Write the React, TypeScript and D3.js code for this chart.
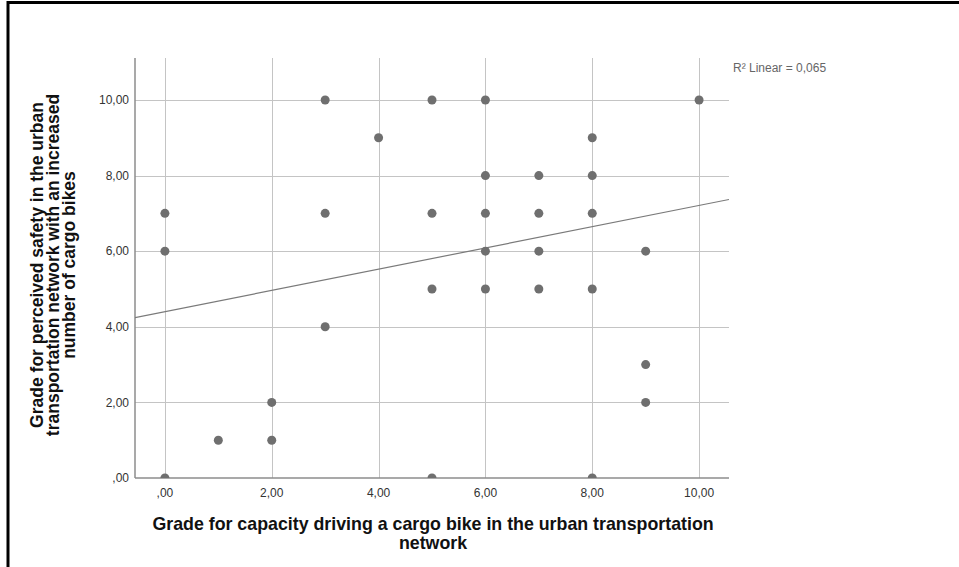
import React, { useEffect, useRef } from 'react';
import * as d3 from 'd3';

// grades (one entry per visible dot)
const capacity = [0, 0, 0, 1, 2, 2, 3, 3, 3, 4, 5, 5, 5, 5, 6, 6, 6, 6, 6, 7, 7, 7, 7, 8, 8, 8, 8, 8, 9, 9, 9, 10];
const safety = [7, 6, 0, 1, 2, 1, 10, 7, 4, 9, 10, 7, 5, 0, 10, 8, 7, 6, 5, 8, 7, 6, 5, 9, 8, 7, 5, 0, 6, 3, 2, 10];

const xTicks = [0, 2, 4, 6, 8, 10];
const yTicks = [0, 2, 4, 6, 8, 10];

// fit line as drawn in the reference
const fitIntercept = 4.4;
const fitSlope = 0.281;
const r2Label = 'R\u00b2 Linear = 0,065';

const yTitle = [
  'Grade for perceived safety in the urban',
  'transportation network with an increased',
  'number of cargo bikes',
];
const xTitle = ['Grade for capacity driving a cargo bike in the urban transportation', 'network'];

const fmt = (v: number) => (v === 0 ? ',00' : d3.format('.2f')(v).replace('.', ','));

const App = () => {
  const svgRef = useRef<SVGSVGElement>(null);

  useEffect(() => {
    const svg = d3.select(svgRef.current);
    svg.selectAll('*').remove();

    const left = 135, right = 729, top = 58, bottom = 478;
    const x = d3.scaleLinear().domain([-0.56, 10.56]).range([left, right]);
    const y = d3.scaleLinear().domain([0, 11.11]).range([bottom, top]);

    // frame (top + left only, like the cropped original)
    svg.append('line').attr('x1', 7).attr('x2', 959).attr('y1', 2.5).attr('y2', 2.5)
      .attr('stroke', '#000').attr('stroke-width', 3);
    svg.append('line').attr('x1', 8).attr('x2', 8).attr('y1', 1).attr('y2', 567)
      .attr('stroke', '#000').attr('stroke-width', 3);

    svg.append('defs').append('clipPath').attr('id', 'plotclip')
      .append('rect').attr('x', left).attr('y', top).attr('width', right - left).attr('height', bottom - top);

    const grid = svg.append('g').attr('stroke', '#c4c4c4').attr('stroke-width', 1);
    grid.selectAll('.vg').data(xTicks).join('line').attr('class', 'vg')
      .attr('x1', d => Math.round(x(d)) + 0.5).attr('x2', d => Math.round(x(d)) + 0.5)
      .attr('y1', top).attr('y2', bottom);
    grid.selectAll('.hg').data(yTicks.filter(d => d > 0)).join('line').attr('class', 'hg')
      .attr('x1', left).attr('x2', right)
      .attr('y1', d => Math.round(y(d)) + 0.5).attr('y2', d => Math.round(y(d)) + 0.5);

    // axes
    svg.append('line').attr('x1', left).attr('x2', left).attr('y1', top).attr('y2', bottom)
      .attr('stroke', '#8c8c8c').attr('stroke-width', 1.5);
    svg.append('line').attr('x1', left).attr('x2', right).attr('y1', bottom).attr('y2', bottom)
      .attr('stroke', '#8c8c8c').attr('stroke-width', 1.5);

    const plot = svg.append('g').attr('clip-path', 'url(#plotclip)');

    // fit line
    plot.append('line')
      .attr('x1', x(-0.56)).attr('y1', y(fitIntercept + fitSlope * -0.56))
      .attr('x2', x(10.56)).attr('y2', y(fitIntercept + fitSlope * 10.56))
      .attr('stroke', '#7a7a7a').attr('stroke-width', 1.2);

    plot.selectAll('.pt').data(capacity).join('circle').attr('class', 'pt')
      .attr('cx', d => x(d)).attr('cy', (_, i) => y(safety[i]))
      .attr('r', 4.5).attr('fill', '#6f6f6f');

    const font = 'Arial, "Liberation Sans", sans-serif';

    svg.selectAll('.yt').data(yTicks).join('text').attr('class', 'yt')
      .attr('x', 129).attr('y', d => y(d)).attr('dy', '0.35em')
      .attr('text-anchor', 'end').attr('font-family', font).attr('font-size', 12)
      .attr('fill', '#333').text(d => fmt(d));

    svg.selectAll('.xt').data(xTicks).join('text').attr('class', 'xt')
      .attr('x', d => x(d)).attr('y', 497)
      .attr('text-anchor', 'middle').attr('font-family', font).attr('font-size', 12)
      .attr('fill', '#333').text(d => fmt(d));

    svg.append('text').attr('x', 733).attr('y', 72).attr('font-family', font).attr('font-size', 12)
      .attr('fill', '#666').text(r2Label);

    svg.selectAll('.xtitle').data(xTitle).join('text').attr('class', 'xtitle')
      .attr('x', 433).attr('y', (_, i) => 530 + i * 19)
      .attr('text-anchor', 'middle').attr('font-family', font).attr('font-size', 17.8)
      .attr('font-weight', 'bold').attr('fill', '#111').text(d => d);

    svg.selectAll('.ytitle').data(yTitle).join('text').attr('class', 'ytitle')
      .attr('transform', (_, i) => `translate(${43 + i * 16},265) rotate(-90)`)
      .attr('text-anchor', 'middle').attr('font-family', font).attr('font-size', 17.5)
      .attr('font-weight', 'bold').attr('fill', '#111').text(d => d);
  }, []);

  return (
    <svg ref={svgRef} width={959} height={567}
      style={{ position: 'absolute', left: 0, top: 0, background: '#fff' }} />
  );
};

export default App;
